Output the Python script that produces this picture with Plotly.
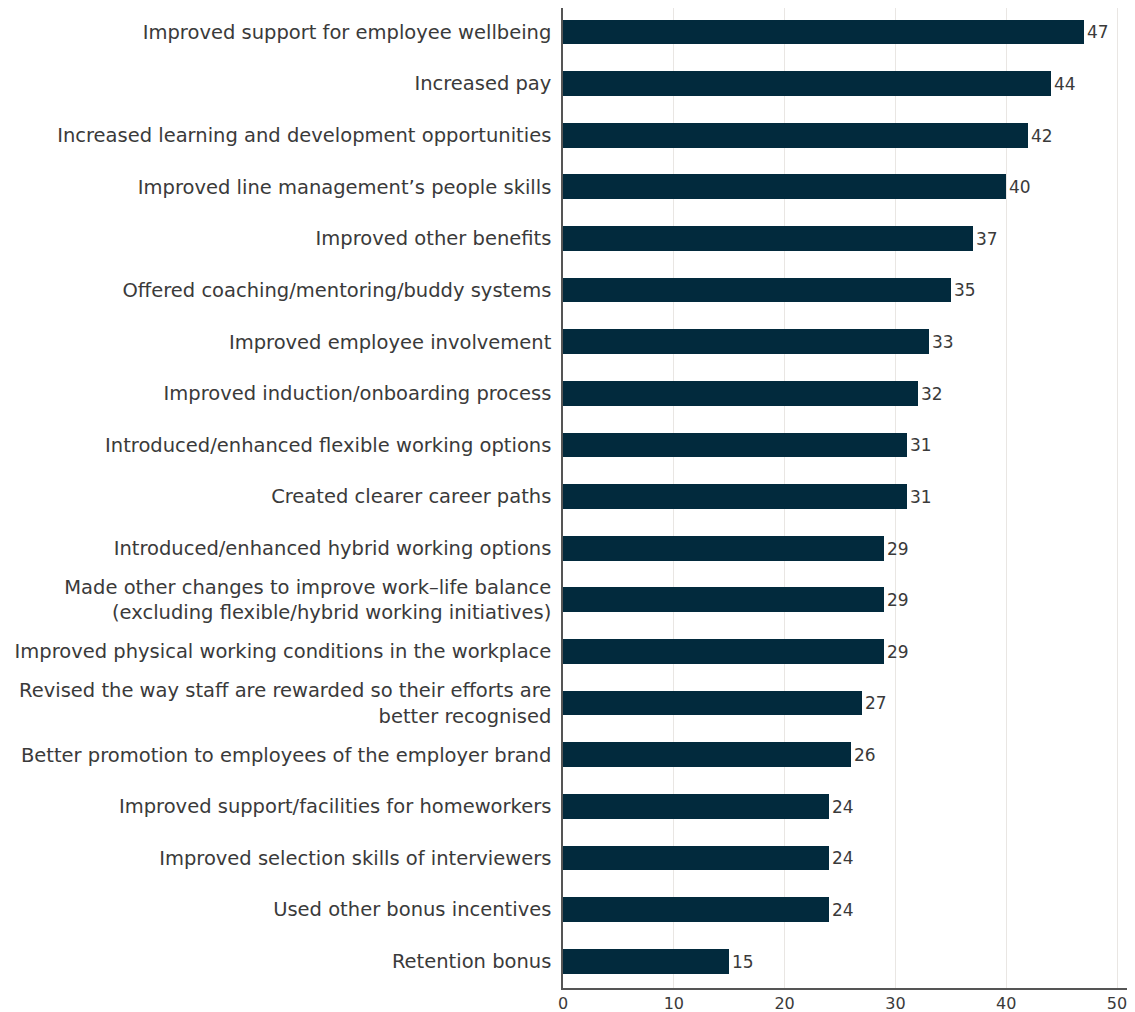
import plotly.graph_objects as go

categories = [
    "Improved support for employee wellbeing",
    "Increased pay",
    "Increased learning and development opportunities",
    "Improved line management’s people skills",
    "Improved other benefits",
    "Offered coaching/mentoring/buddy systems",
    "Improved employee involvement",
    "Improved induction/onboarding process",
    "Introduced/enhanced flexible working options",
    "Created clearer career paths",
    "Introduced/enhanced hybrid working options",
    "Made other changes to improve work–life balance<br>(excluding flexible/hybrid working initiatives)",
    "Improved physical working conditions in the workplace",
    "Revised the way staff are rewarded so their efforts are<br>better recognised",
    "Better promotion to employees of the employer brand",
    "Improved support/facilities for homeworkers",
    "Improved selection skills of interviewers",
    "Used other bonus incentives",
    "Retention bonus",
]
values = [47, 44, 42, 40, 37, 35, 33, 32, 31, 31, 29, 29, 29, 27, 26, 24, 24, 24, 15]
tick_vals = [0, 10, 20, 30, 40, 50]

FONT = "DejaVu Sans"
TEXT = "#3a3a3a"

fig = go.Figure(go.Bar(
    x=values,
    y=list(range(len(categories))),
    orientation="h",
    marker=dict(color="#022a3d", line=dict(width=0)),
    width=0.48,
    text=[str(v) for v in values],
    textposition="outside",
    cliponaxis=False,
    textfont=dict(family=FONT, size=17, color=TEXT),
))

# page body has an 8px default margin, so the figure is sized to fill the rest of the window
fig.update_layout(
    width=1127, height=1004,
    margin=dict(l=555, r=8, t=0, b=24),
    plot_bgcolor="white", paper_bgcolor="white",
    showlegend=False,
    font=dict(family=FONT, color=TEXT),
    bargap=0,
)
fig.update_xaxes(
    range=[0, 50.9], tickvals=tick_vals, ticktext=[str(t) for t in tick_vals],
    showgrid=True, gridcolor="#e9e6e3", gridwidth=1,
    showline=True, linecolor="#555555", linewidth=1.5,
    zeroline=False, ticks="", ticklabelstandoff=0,
    tickfont=dict(family=FONT, size=16, color=TEXT),
    automargin=False,
)
fig.update_yaxes(
    range=[18.52, -0.465],
    tickvals=list(range(len(categories))), ticktext=categories,
    showgrid=False, showline=True, linecolor="#555555", linewidth=1.5,
    zeroline=False, ticks="", ticklabelstandoff=6,
    tickfont=dict(family=FONT, size=19.5, color=TEXT),
    automargin=False,
)

fig.write_html("out.html")
